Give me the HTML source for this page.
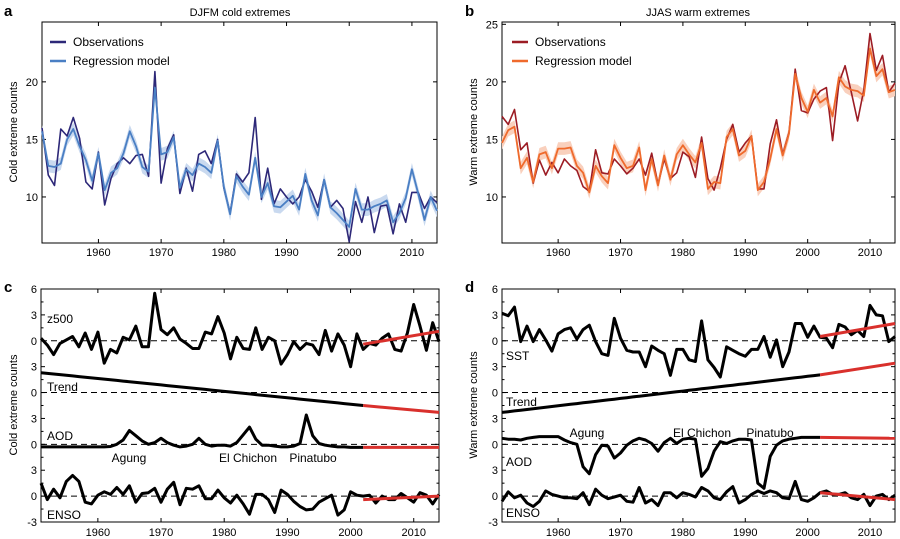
<!DOCTYPE html>
<html><head><meta charset="utf-8"><style>
html,body{margin:0;padding:0;background:#fff;}
svg{display:block;font-family:"Liberation Sans",Arial,sans-serif;}
</style></head><body>
<svg id="fig" width="900" height="539" viewBox="0 0 900 539" xmlns="http://www.w3.org/2000/svg">
<text x="4" y="16" font-size="15" font-weight="bold">a</text>
<text x="465" y="16" font-size="15" font-weight="bold">b</text>
<text x="4" y="292" font-size="15" font-weight="bold">c</text>
<text x="465" y="292" font-size="15" font-weight="bold">d</text>
<text x="240" y="16" font-size="11" text-anchor="middle">DJFM cold extremes</text>
<text x="698" y="16" font-size="11" text-anchor="middle">JJAS warm extremes</text>
<text transform="translate(17,132) rotate(-90)" font-size="11" text-anchor="middle">Cold extreme counts</text>
<text transform="translate(477,132) rotate(-90)" font-size="11" text-anchor="middle">Warm extreme counts</text>
<text transform="translate(17,405) rotate(-90)" font-size="11" text-anchor="middle">Cold extreme counts</text>
<text transform="translate(477,405) rotate(-90)" font-size="11" text-anchor="middle">Warm extreme counts</text>
</svg>
<script>
const years = []; for (let y = 1951; y <= 2014; y++) years.push(y);
const xTicks = [1960, 1970, 1980, 1990, 2000, 2010];
const coldObs = [16.0,11.9,11.0,15.9,15.3,16.9,15.1,11.3,10.7,13.9,9.3,11.6,12.9,13.4,12.9,13.6,13.7,11.8,20.9,11.2,14.2,15.4,10.3,12.5,10.5,13.7,14.0,12.9,15.0,10.8,8.6,12.0,11.3,12.1,16.9,9.8,12.5,9.4,10.7,10.0,9.4,10.0,11.5,10.5,9.1,11.5,9.1,9.7,9.0,6.1,9.6,7.8,10.0,6.9,9.2,9.3,6.8,9.4,7.8,10.4,10.4,9.0,10.0,9.5];
const coldModel = [15.7,12.7,12.6,12.9,15.0,15.9,14.4,13.2,11.4,13.8,10.6,12.1,12.5,13.8,15.7,14.4,12.6,12.2,19.5,13.7,13.9,15.2,10.8,12.4,11.9,12.9,12.6,12.1,14.9,10.9,8.5,11.8,10.9,10.2,13.4,10.0,11.2,9.2,9.1,9.6,10.1,8.9,12.0,9.7,8.4,11.5,9.1,8.6,8.0,7.4,10.7,8.9,8.9,9.2,9.4,9.7,7.8,8.6,9.9,12.4,10.3,8.0,10.0,8.8];
const warmObs = [17.0,16.3,17.6,14.1,14.7,11.2,13.2,11.9,13.0,12.1,13.3,12.7,12.3,10.9,10.5,14.1,12.1,12.0,13.3,12.7,12.0,12.5,13.3,11.9,13.8,11.1,13.3,11.6,12.1,13.9,13.5,11.7,15.2,11.6,10.6,12.5,15.0,16.3,13.9,14.7,15.3,10.7,10.7,14.6,16.7,13.7,15.6,21.1,17.5,17.3,18.5,19.2,19.5,14.9,19.9,21.4,19.1,16.6,19.3,24.2,21.0,22.3,19.1,19.9];
const warmModel = [14.7,15.8,16.1,12.5,13.4,11.3,13.7,13.9,12.5,14.2,14.2,14.3,12.7,12.1,10.4,12.7,11.8,11.2,14.5,13.4,12.5,12.7,14.3,10.6,13.3,11.0,13.6,11.5,13.7,14.5,13.7,13.0,14.7,10.7,11.3,11.2,15.2,15.9,13.6,14.0,15.3,10.6,11.3,13.3,15.9,13.6,15.5,20.7,18.6,17.4,19.3,18.2,18.6,17.0,20.4,19.6,19.3,19.2,18.8,22.9,20.5,21.1,19.1,19.3];
const bandHalfWidth = 0.55;
const coldTicks = [10, 15, 20];
const warmTicks = [10, 15, 20, 25];
// panel c series
const z500 = [0.3,-0.5,-1.6,-0.3,0.1,0.5,-0.7,0.9,-1.0,1.0,-2.6,-1.0,-1.4,0.4,0.1,1.7,-0.7,-0.7,5.5,1.3,0.7,1.5,0.2,-0.3,-0.9,-0.9,1.0,0.8,2.8,0.9,-2.1,0.4,-0.9,-1.0,1.5,-1.0,0.4,0.0,-2.7,-1.6,-0.1,-1.0,-0.3,-0.5,-1.6,1.2,-1.2,0.8,-0.5,-3.0,0.8,-1.0,-0.3,-0.5,0.3,0.8,-1.0,-1.2,0.9,4.2,1.7,-1.1,2.1,-0.1];
const z500Fit = [-0.4, 1.1];
const trendC = [2.3, -1.5, -2.3];
const aodC = [-0.3,-0.3,-0.3,-0.3,-0.3,-0.3,-0.3,-0.3,-0.3,-0.3,-0.3,-0.25,0.0,0.5,1.6,1.0,0.4,0.0,0.2,0.7,0.2,-0.1,-0.3,-0.2,0.0,0.7,0.0,-0.2,-0.1,-0.1,-0.2,0.2,1.1,2.0,0.6,-0.1,-0.1,-0.2,-0.3,-0.3,-0.2,0.1,3.4,1.0,0.1,-0.1,-0.2,-0.3,-0.3,-0.35,-0.35,-0.35];
const aodCFit = [-0.35, -0.35];
const ensoC = [1.5,-0.4,0.8,-0.2,1.7,2.4,1.7,-0.7,-0.9,0.1,0.5,0.2,1.0,0.2,1.2,-0.7,0.3,0.4,0.9,-0.7,0.8,1.6,-1.0,0.9,0.8,1.2,-0.3,-0.3,0.7,-0.2,-0.8,0.1,-0.9,-2.1,0.2,0.2,-0.4,-1.9,0.7,0.2,-0.6,-1.2,-1.6,-1.5,-0.7,-0.3,0.1,-2.2,-1.6,0.5,0.1,0.0,0.1,-0.8,0.0,-0.4,-0.4,0.3,-0.2,-0.7,0.4,0.1,-0.9,0.2];
const ensoCFit = [-0.4, 0.0];
// panel d series
const sst = [3.2,2.9,3.9,-0.1,1.7,-0.1,1.3,0.1,-1.2,0.8,1.3,1.5,0.2,1.3,1.8,-0.1,-1.5,-1.7,2.6,0.3,-1.1,-1.3,-1.3,-3.0,-0.6,-1.1,-1.5,-4.0,-1.0,-1.0,-2.2,-2.4,2.3,-2.2,-3.1,-4.2,-0.7,-1.1,-1.5,-1.8,-1.0,-1.0,0.5,-1.9,0.1,-3.0,-1.3,2.0,2.0,0.4,1.7,0.4,0.3,-0.8,1.9,1.6,0.7,1.2,0.5,4.1,3.0,2.9,-0.1,0.5];
const sstFit = [0.5, 2.0];
const trendD = [-2.3, 2.05, 3.4];
const aodD = [0.7,0.6,0.6,0.5,0.7,0.8,0.9,0.9,0.9,0.9,0.5,0.2,0.0,-2.6,-3.4,-1.2,-0.1,-0.2,-1.6,-1.0,-0.1,0.4,0.7,0.5,0.1,-0.8,0.2,0.7,0.1,0.6,0.7,0.6,-3.7,-2.8,-0.8,0.3,0.1,0.4,0.6,0.6,0.5,-4.5,-5.1,-1.4,-0.1,0.4,0.6,0.7,0.8,0.8,0.8,0.8];
const aodDFit = [0.8, 0.7];
const ensoD = [-0.6,0.5,-0.2,0.1,-0.8,-1.2,-0.6,0.6,0.2,0.0,-0.2,-0.2,-0.3,0.4,-1.0,0.8,0.1,-0.3,-0.1,0.1,-0.6,-0.7,1.0,-0.8,-0.4,-1.1,0.4,0.4,-0.2,0.4,0.2,-0.1,1.0,0.6,-0.2,-0.4,0.5,1.1,-0.8,-0.4,0.2,0.6,0.3,0.6,0.4,-0.2,-0.3,1.7,-0.4,-0.6,-0.2,0.4,0.6,0.2,0.2,0.4,-0.2,-0.4,0.2,-1.1,0.0,0.2,-0.4,0.1];
const ensoDFit = [0.4, -0.4];
const stackTickLabels = ["-3","0","3","0","3","0","3","0","3","6"];
const fitStartYear = 2002;

const NS = "http://www.w3.org/2000/svg";
const svg = document.getElementById("fig");
function mk(tag, attrs, parent) {
  const e = document.createElementNS(NS, tag);
  for (const k in attrs) e.setAttribute(k, attrs[k]);
  (parent || svg).appendChild(e);
  return e;
}
function makeX(x0, x1) { return yr => x0 + (yr - 1951) / (2014 - 1951) * (x1 - x0); }
function makeY(y0, y1, vmin, vmax) { return v => y1 - (v - vmin) / (vmax - vmin) * (y1 - y0); }
function pathFrom(xs, vs, X, Y) { return xs.map((x, i) => (i ? "L" : "M") + X(x).toFixed(1) + "," + Y(vs[i]).toFixed(1)).join(""); }

function frame(name, x0, x1, y0, y1, X, xlabY) {
  const g = mk("g", {});
  
  
  mk("rect", {x: x0, y: y0, width: x1 - x0, height: y1 - y0, fill: "none", stroke: "#000", "stroke-width": 1}, g);
  xTicks.forEach(t => {
    const x = X(t);
    mk("line", {x1: x, x2: x, y1: y1, y2: y1 - 4, stroke: "#000"}, g);
    mk("line", {x1: x, x2: x, y1: y0, y2: y0 + 4, stroke: "#000"}, g);
    const tx = mk("text", {x: x, y: xlabY, "font-size": 11, "text-anchor": "middle"}, g);
    tx.textContent = t;
    
    
  });
  return g;
}

function topPanel(name, x0, x1, obs, model, ticks, cObs, cModel, cBand, legendX) {
  const y0 = 22, y1 = 243;
  const X = makeX(x0, x1), Y = makeY(y0, y1, 6, 25.2);
  const g = frame(name, x0, x1, y0, y1, X, 256);
  ticks.forEach(t => {
    const y = Y(t);
    mk("line", {x1: x0, x2: x0 + 4, y1: y, y2: y, stroke: "#000"}, g);
    mk("line", {x1: x1, x2: x1 - 4, y1: y, y2: y, stroke: "#000"}, g);
    const tx = mk("text", {x: x0 - 4, y: y + 4, "font-size": 11, "text-anchor": "end"}, g);
    tx.textContent = t;
    
    
  });
  const up = model.map(v => v + bandHalfWidth), dn = model.map(v => v - bandHalfWidth);
  const bandD = pathFrom(years, up, X, Y) + years.slice().reverse().map((yr, i) => "L" + X(yr).toFixed(1) + "," + Y(dn[dn.length - 1 - i]).toFixed(1)).join("") + "Z";
  const band = mk("path", {d: bandD, fill: cBand, stroke: "none"});
  
  
  const lo = mk("path", {d: pathFrom(years, obs, X, Y), fill: "none", stroke: cObs, "stroke-width": 1.6, "stroke-linejoin": "round"});
  
  
  const lm = mk("path", {d: pathFrom(years, model, X, Y), fill: "none", stroke: cModel, "stroke-width": 1.8, "stroke-linejoin": "round"});
  
  
  [["Observations", cObs, 42], ["Regression model", cModel, 61]].forEach(([lab, c, y]) => {
    const lg = mk("g", {});
    
    
    mk("line", {x1: legendX, x2: legendX + 16, y1: y, y2: y, stroke: c, "stroke-width": 2.5}, lg);
    const t = mk("text", {x: legendX + 23, y: y + 4, "font-size": 12}, lg);
    t.textContent = lab;
  });
}

function bottomPanel(name, x0, x1, series, labels) {
  const y0 = 289, y1 = 522;
  const X = makeX(x0, x1), Y = makeY(y0, y1, -3, 24);
  const g = frame(name, x0, x1, y0, y1, X, 536);
  stackTickLabels.forEach((lab, i) => {
    const v = -3 + 3 * i, y = Y(v);
    mk("line", {x1: x0, x2: x0 + 4, y1: y, y2: y, stroke: "#000"}, g);
    mk("line", {x1: x1, x2: x1 - 4, y1: y, y2: y, stroke: "#000"}, g);
    if (i < 9) {
      const ym = Y(v + 1.5);
      mk("line", {x1: x0, x2: x0 + 2.5, y1: ym, y2: ym, stroke: "#000"}, g);
      mk("line", {x1: x1, x2: x1 - 2.5, y1: ym, y2: ym, stroke: "#000"}, g);
    }
    const tx = mk("text", {x: x0 - 4, y: y + 4, "font-size": 11, "text-anchor": "end"}, g);
    tx.textContent = lab;
    
    
  });
  [0, 6, 12, 18].forEach(off => {
    const y = Y(off);
    const l = mk("line", {x1: x0, x2: x1, y1: y, y2: y, stroke: "#000", "stroke-width": 1, "stroke-dasharray": "6,4"});
    
    
  });
  series.forEach(s => {
    const xs = years.slice(0, s.vals.length);
    const vs = s.vals.map(v => v + s.off);
    const p = mk("path", {d: pathFrom(xs, vs, X, Y), fill: "none", stroke: "#000", "stroke-width": 3, "stroke-linejoin": "round"});
    
    
    const f = mk("path", {d: pathFrom([fitStartYear, 2014], s.fit.map(v => v + s.off), X, Y), fill: "none", stroke: "#d9302c", "stroke-width": 3});
    
    
  });
  labels.forEach(([txt, x, y, anchor]) => {
    const t = mk("text", {x: x, y: y, "font-size": 12, "text-anchor": anchor || "start"});
    t.textContent = txt;
    
    
  });
}

topPanel("cold", 42, 437, coldObs, coldModel, coldTicks, "#2d2878", "#4a7fc4", "#c9d9ef", 50);
topPanel("warm", 502, 895, warmObs, warmModel, warmTicks, "#9c1c24", "#ef6a2c", "#f9d0bd", 512);

bottomPanel("cold-drivers", 41, 439, [
  {name: "z500", vals: z500, fit: z500Fit, off: 18},
  {name: "trend", vals: [trendC[0], trendC[1]].length ? years.filter(y => y <= fitStartYear).map(y => trendC[0] + (trendC[1] - trendC[0]) * (y - 1951) / (fitStartYear - 1951)) : [], fit: [trendC[1], trendC[2]], off: 12},
  {name: "aod", vals: aodC, fit: aodCFit, off: 6},
  {name: "enso", vals: ensoC, fit: ensoCFit, off: 0}
], [["z500", 47, 323], ["Trend", 47, 391], ["AOD", 47, 440], ["Agung", 129, 462, "middle"], ["El Chichon", 248, 462, "middle"], ["Pinatubo", 313, 462, "middle"], ["ENSO", 47, 519]]);

bottomPanel("warm-drivers", 502, 895, [
  {name: "sst", vals: sst, fit: sstFit, off: 18},
  {name: "trend", vals: years.filter(y => y <= fitStartYear).map(y => trendD[0] + (trendD[1] - trendD[0]) * (y - 1951) / (fitStartYear - 1951)), fit: [trendD[1], trendD[2]], off: 12},
  {name: "aod", vals: aodD, fit: aodDFit, off: 6},
  {name: "enso", vals: ensoD, fit: ensoDFit, off: 0}
], [["SST", 506, 360], ["Trend", 506, 406], ["Agung", 587, 437, "middle"], ["El Chichon", 702, 437, "middle"], ["Pinatubo", 770, 437, "middle"], ["AOD", 506, 466], ["ENSO", 506, 517]]);
</script>
</body></html>
